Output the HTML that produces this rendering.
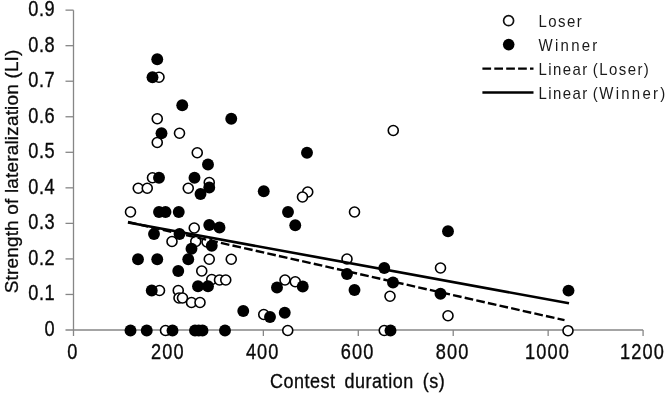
<!DOCTYPE html><html><head><meta charset="utf-8"><title>Scatter</title><style>html,body{margin:0;padding:0;background:#fff}svg{display:block;filter:blur(0.4px)}text{font-family:"Liberation Sans",sans-serif;fill:#0a0a0a;stroke:#0a0a0a;stroke-width:0.3px}</style></head><body>
<svg width="666" height="396" viewBox="0 0 666 396">
<rect width="666" height="396" fill="#fff"/>
<g stroke="#868686" stroke-width="1.3" fill="none">
<path d="M73.5 10.14V336"/>
<path d="M65.5 330H643.08"/>
<path d="M65.5 294.46H73.5"/>
<path d="M65.5 258.92H73.5"/>
<path d="M65.5 223.38H73.5"/>
<path d="M65.5 187.84H73.5"/>
<path d="M65.5 152.30H73.5"/>
<path d="M65.5 116.76H73.5"/>
<path d="M65.5 81.22H73.5"/>
<path d="M65.5 45.68H73.5"/>
<path d="M65.5 10.14H73.5"/>
<path d="M168.43 330V336"/>
<path d="M263.36 330V336"/>
<path d="M358.29 330V336"/>
<path d="M453.22 330V336"/>
<path d="M548.15 330V336"/>
<path d="M643.08 330V336"/>
</g>
<text transform="translate(55.10 335.90) scale(1 1.18)" font-size="18.2" letter-spacing="0.5" text-anchor="end">0</text>
<text transform="translate(55.10 300.36) scale(1 1.18)" font-size="18.2" letter-spacing="0.5" text-anchor="end">0.1</text>
<text transform="translate(55.10 264.82) scale(1 1.18)" font-size="18.2" letter-spacing="0.5" text-anchor="end">0.2</text>
<text transform="translate(55.10 229.28) scale(1 1.18)" font-size="18.2" letter-spacing="0.5" text-anchor="end">0.3</text>
<text transform="translate(55.10 193.74) scale(1 1.18)" font-size="18.2" letter-spacing="0.5" text-anchor="end">0.4</text>
<text transform="translate(55.10 158.20) scale(1 1.18)" font-size="18.2" letter-spacing="0.5" text-anchor="end">0.5</text>
<text transform="translate(55.10 122.66) scale(1 1.18)" font-size="18.2" letter-spacing="0.5" text-anchor="end">0.6</text>
<text transform="translate(55.10 87.12) scale(1 1.18)" font-size="18.2" letter-spacing="0.5" text-anchor="end">0.7</text>
<text transform="translate(55.10 51.58) scale(1 1.18)" font-size="18.2" letter-spacing="0.5" text-anchor="end">0.8</text>
<text transform="translate(55.10 16.04) scale(1 1.18)" font-size="18.2" letter-spacing="0.5" text-anchor="end">0.9</text>
<text transform="translate(72.85 358.80) scale(1 1.175)" font-size="18.2" letter-spacing="1.1" text-anchor="middle">0</text>
<text transform="translate(167.78 358.80) scale(1 1.175)" font-size="18.2" letter-spacing="1.1" text-anchor="middle">200</text>
<text transform="translate(262.71 358.80) scale(1 1.175)" font-size="18.2" letter-spacing="1.1" text-anchor="middle">400</text>
<text transform="translate(357.64 358.80) scale(1 1.175)" font-size="18.2" letter-spacing="1.1" text-anchor="middle">600</text>
<text transform="translate(452.57 358.80) scale(1 1.175)" font-size="18.2" letter-spacing="1.1" text-anchor="middle">800</text>
<text transform="translate(547.50 358.80) scale(1 1.175)" font-size="18.2" letter-spacing="1.1" text-anchor="middle">1000</text>
<text transform="translate(642.43 358.80) scale(1 1.175)" font-size="18.2" letter-spacing="1.1" text-anchor="middle">1200</text>
<text transform="translate(269.90 388.40) scale(1 1.15)" font-size="18" letter-spacing="0.53" text-anchor="start" word-spacing="3.4">Contest duration (s)</text>
<text transform="translate(17.9 293.3) rotate(-90)" font-size="19" textLength="243.7" lengthAdjust="spacing">Strength of lateralization (LI)</text>
<g fill="#fff" stroke="#000" stroke-width="1.6">
<circle cx="159" cy="77.25" r="5.0"/>
<circle cx="157.25" cy="118.75" r="5.0"/>
<circle cx="179.5" cy="133.25" r="5.0"/>
<circle cx="157.25" cy="142.5" r="5.0"/>
<circle cx="197.25" cy="152.75" r="5.0"/>
<circle cx="152.5" cy="177.75" r="5.0"/>
<circle cx="209.25" cy="182.5" r="5.0"/>
<circle cx="138.25" cy="188.25" r="5.0"/>
<circle cx="147.25" cy="188.25" r="5.0"/>
<circle cx="188.25" cy="188.25" r="5.0"/>
<circle cx="130.5" cy="212" r="5.0"/>
<circle cx="194.25" cy="228" r="5.0"/>
<circle cx="172" cy="241.5" r="5.0"/>
<circle cx="195.75" cy="241.5" r="5.0"/>
<circle cx="207" cy="242" r="5.0"/>
<circle cx="209.25" cy="259.25" r="5.0"/>
<circle cx="231.25" cy="259.25" r="5.0"/>
<circle cx="201.75" cy="271" r="5.0"/>
<circle cx="211.75" cy="279.5" r="5.0"/>
<circle cx="219.5" cy="280" r="5.0"/>
<circle cx="225.75" cy="280" r="5.0"/>
<circle cx="159.5" cy="290.5" r="5.0"/>
<circle cx="178.25" cy="290.5" r="5.0"/>
<circle cx="179" cy="298" r="5.0"/>
<circle cx="182.5" cy="298" r="5.0"/>
<circle cx="191.5" cy="302.5" r="5.0"/>
<circle cx="200" cy="302.5" r="5.0"/>
<circle cx="263.75" cy="314.5" r="5.0"/>
<circle cx="165.5" cy="330.5" r="5.0"/>
<circle cx="393.25" cy="130.5" r="5.0"/>
<circle cx="307.75" cy="192" r="5.0"/>
<circle cx="302.5" cy="197" r="5.0"/>
<circle cx="354.5" cy="212" r="5.0"/>
<circle cx="347" cy="259" r="5.0"/>
<circle cx="285" cy="280" r="5.0"/>
<circle cx="295.25" cy="281.75" r="5.0"/>
<circle cx="390" cy="296.25" r="5.0"/>
<circle cx="287.75" cy="330.5" r="5.0"/>
<circle cx="384.25" cy="330.5" r="5.0"/>
<circle cx="440.5" cy="268" r="5.0"/>
<circle cx="448" cy="315.75" r="5.0"/>
<circle cx="568" cy="330.7" r="5.0"/>
</g><g fill="#000">
<circle cx="157.25" cy="59.25" r="5.95"/>
<circle cx="152.5" cy="77.25" r="5.95"/>
<circle cx="182.25" cy="105.25" r="5.95"/>
<circle cx="231.25" cy="118.75" r="5.95"/>
<circle cx="161.5" cy="133.25" r="5.95"/>
<circle cx="208" cy="164.5" r="5.95"/>
<circle cx="159" cy="177.75" r="5.95"/>
<circle cx="194.5" cy="177.75" r="5.95"/>
<circle cx="209.25" cy="187.5" r="5.95"/>
<circle cx="200.5" cy="194" r="5.95"/>
<circle cx="263.75" cy="191.25" r="5.95"/>
<circle cx="159" cy="212" r="5.95"/>
<circle cx="165.5" cy="212" r="5.95"/>
<circle cx="178.75" cy="212" r="5.95"/>
<circle cx="209.25" cy="225" r="5.95"/>
<circle cx="219.5" cy="227.5" r="5.95"/>
<circle cx="154" cy="234" r="5.95"/>
<circle cx="179.5" cy="234" r="5.95"/>
<circle cx="211.75" cy="245.75" r="5.95"/>
<circle cx="191.5" cy="248.75" r="5.95"/>
<circle cx="138" cy="259.25" r="5.95"/>
<circle cx="157.25" cy="259.25" r="5.95"/>
<circle cx="188.25" cy="259.25" r="5.95"/>
<circle cx="178.25" cy="271" r="5.95"/>
<circle cx="198" cy="286.25" r="5.95"/>
<circle cx="208" cy="286.25" r="5.95"/>
<circle cx="151.75" cy="290.5" r="5.95"/>
<circle cx="243.25" cy="311" r="5.95"/>
<circle cx="130.5" cy="330.5" r="5.95"/>
<circle cx="146.75" cy="330.5" r="5.95"/>
<circle cx="172.5" cy="330.5" r="5.95"/>
<circle cx="195" cy="330.5" r="5.95"/>
<circle cx="198.75" cy="330.5" r="5.95"/>
<circle cx="202.5" cy="330.5" r="5.95"/>
<circle cx="225" cy="330.5" r="5.95"/>
<circle cx="307" cy="152.75" r="5.95"/>
<circle cx="288" cy="212" r="5.95"/>
<circle cx="295.25" cy="225.25" r="5.95"/>
<circle cx="384.25" cy="268" r="5.95"/>
<circle cx="347" cy="274" r="5.95"/>
<circle cx="393" cy="282.5" r="5.95"/>
<circle cx="277" cy="287.5" r="5.95"/>
<circle cx="302.75" cy="286.5" r="5.95"/>
<circle cx="354.5" cy="290" r="5.95"/>
<circle cx="270" cy="317" r="5.95"/>
<circle cx="284.75" cy="312.75" r="5.95"/>
<circle cx="390.5" cy="330.5" r="5.95"/>
<circle cx="448" cy="231.25" r="5.95"/>
<circle cx="440.5" cy="293.75" r="5.95"/>
<circle cx="568.5" cy="290.6" r="5.95"/>
</g>
<path d="M128 222L564.5 320.2" stroke="#000" stroke-width="2.4" stroke-dasharray="8.7 3.2" fill="none"/>
<path d="M128 222.5L569 303.3" stroke="#000" stroke-width="2.6" fill="none"/>
<circle cx="508.6" cy="20.7" r="5.0" fill="#fff" stroke="#111" stroke-width="1.7"/>
<circle cx="508.7" cy="44.6" r="5.8" fill="#000"/>
<path d="M482.4 68.6H533.5" stroke="#000" stroke-width="2.4" stroke-dasharray="8.7 3.2" fill="none"/>
<path d="M482.4 92.5H533.5" stroke="#000" stroke-width="2.6" fill="none"/>
<text class="leg" transform="translate(538.6 27.2) scale(1 1.09)" font-size="15" letter-spacing="1.4" word-spacing="-1.5" style="stroke:none;fill:#1a1a1a">Loser</text>
<text class="leg" transform="translate(538.6 51.2) scale(1 1.09)" font-size="15" letter-spacing="2.25" word-spacing="-1.5" style="stroke:none;fill:#1a1a1a">Winner</text>
<text class="leg" transform="translate(538.6 75.2) scale(1 1.09)" font-size="15" letter-spacing="1.42" word-spacing="-1.5" style="stroke:none;fill:#1a1a1a">Linear (Loser)</text>
<text class="leg" transform="translate(538.6 99.2) scale(1 1.09)" font-size="15" letter-spacing="1.42" word-spacing="-1.5" style="stroke:none;fill:#1a1a1a">Linear (<tspan letter-spacing="2.25">Winner</tspan>)</text>
</svg></body></html>
